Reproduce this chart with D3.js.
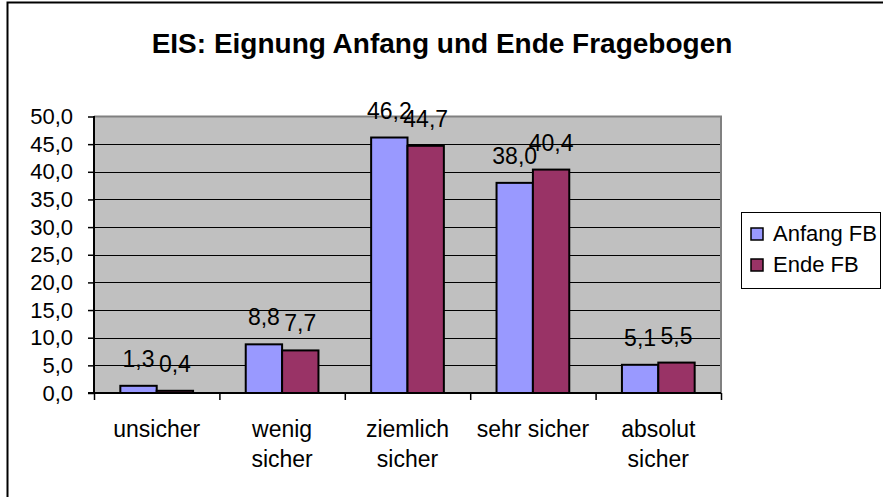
<!DOCTYPE html>
<html>
<head>
<meta charset="utf-8">
<script src="https://cdn.jsdelivr.net/npm/d3@7/dist/d3.min.js"></script>
<style>
  body { margin: 0; background: #fff; }
  svg { display: block; font-family: Arial, "Liberation Sans", sans-serif; }
</style>
</head>
<body>
<svg id="chart" width="883" height="497"></svg>
<script>
// chart data
var categories = [["unsicher"], ["wenig", "sicher"], ["ziemlich", "sicher"], ["sehr sicher"], ["absolut", "sicher"]];
var anfangFB = [1.3, 8.8, 46.2, 38.0, 5.1];
var endeFB = [0.4, 7.7, 44.7, 40.4, 5.5];
var seriesNames = ["Anfang FB", "Ende FB"];
var yTicks = [0, 5, 10, 15, 20, 25, 30, 35, 40, 45, 50];

var colors = ["#9999FF", "#993366"];
var fmt = function(v){ return d3.format(".1f")(v).replace(".", ","); };

var svg = d3.select("#chart");

// outer frame (right/bottom edges fall outside the picture)
svg.append("rect")
    .attr("x", 7.5).attr("y", 2.5)
    .attr("width", 900).attr("height", 520)
    .style("fill", "#fff")
    .style("stroke", "#000")
    .style("stroke-width", 2);

svg.append("text")
    .attr("x", 442).attr("y", 53)
    .attr("text-anchor", "middle")
    .style("font-size", "28px")
    .style("font-weight", "bold")
    .text("EIS: Eignung Anfang und Ende Fragebogen");

var plot = {left: 94, right: 721, top: 116.5, bottom: 393};

var x0 = d3.scaleBand()
    .domain(d3.range(categories.length))
    .range([plot.left, plot.right])
    .paddingInner(0.42).paddingOuter(0.21);
var x1 = d3.scaleBand()
    .domain([0, 1])
    .range([0, x0.bandwidth()]);
var y = d3.scaleLinear().domain([0, 50]).range([plot.bottom, plot.top]);

var g = svg.append("g");

g.append("rect")
    .attr("x", plot.left).attr("y", plot.top)
    .attr("width", plot.right - plot.left).attr("height", plot.bottom - plot.top)
    .style("fill", "#C0C0C0");

// gridlines
g.selectAll("line.grid")
    .data(yTicks.filter(function(d){ return d > 0 && d < 50; }))
    .enter().append("line")
    .attr("class", "grid")
    .attr("x1", plot.left).attr("x2", plot.right)
    .attr("y1", function(d){ return Math.round(y(d)) + 0.5; })
    .attr("y2", function(d){ return Math.round(y(d)) + 0.5; })
    .style("stroke", "#000")
    .style("stroke-width", 1);

// gray top/right border of the plot area
g.append("path")
    .attr("d", "M" + plot.left + "," + plot.top + " H" + plot.right + " V" + plot.bottom)
    .style("fill", "none")
    .style("stroke", "#808080")
    .style("stroke-width", 2);

var series = [anfangFB, endeFB];
series.forEach(function(vals, s){
    g.selectAll("rect.bar" + s)
        .data(vals)
        .enter().append("rect")
        .attr("class", "bar" + s)
        .attr("x", function(d, i){ return x0(i) + x1(s); })
        .attr("y", function(d){ return y(d); })
        .attr("width", x1.bandwidth())
        .attr("height", function(d){ return y(0) - y(d); })
        .style("fill", colors[s])
        .style("stroke", "#000")
        .style("stroke-width", 2);
});

series.forEach(function(vals, s){
    g.selectAll("text.lab" + s)
        .data(vals)
        .enter().append("text")
        .attr("class", "lab" + s)
        .attr("x", function(d, i){ return x0(i) + x1(s) + x1.bandwidth() / 2; })
        .attr("y", function(d){ return y(d) - 19; })
        .attr("text-anchor", "middle")
        .style("font-size", "23px")
        .text(function(d){ return fmt(d); });
});

// y axis
var yAxis = d3.axisLeft(y).tickValues(yTicks).tickSize(6).tickPadding(15)
    .tickFormat(fmt);
var ya = svg.append("g").attr("transform", "translate(" + plot.left + ",0)").call(yAxis);
ya.select(".domain").attr("d", "M0," + (plot.top - 0.5) + "V" + (plot.bottom + 0.5)).style("stroke-width", 2);
ya.selectAll(".tick line").style("stroke-width", 1.5);
ya.selectAll("text").style("font-size", "22px").style("font-family", "Arial, 'Liberation Sans', sans-serif").attr("fill", "#000");

// x axis
svg.append("line")
    .attr("x1", plot.left - 6).attr("x2", plot.right)
    .attr("y1", plot.bottom).attr("y2", plot.bottom)
    .style("stroke", "#000").style("stroke-width", 2);
svg.selectAll("line.xtick")
    .data(d3.range(categories.length + 1))
    .enter().append("line")
    .attr("class", "xtick")
    .attr("x1", function(i){ return plot.left + i * x0.step() + 0.5; })
    .attr("x2", function(i){ return plot.left + i * x0.step() + 0.5; })
    .attr("y1", plot.bottom).attr("y2", plot.bottom + 7)
    .style("stroke", "#000").style("stroke-width", 1.5);

var cat = svg.selectAll("text.cat")
    .data(categories)
    .enter().append("text")
    .attr("class", "cat")
    .attr("text-anchor", "middle")
    .style("font-size", "23px");
cat.each(function(lines, i){
    var t = d3.select(this);
    lines.forEach(function(l, k){
        t.append("tspan")
            .attr("x", x0(i) + x0.bandwidth() / 2)
            .attr("y", 437 + k * 30)
            .text(l);
    });
});

// legend
var lg = svg.append("g");
lg.append("rect")
    .attr("x", 741.5).attr("y", 212.5)
    .attr("width", 139).attr("height", 76)
    .style("fill", "#fff").style("stroke", "#000").style("stroke-width", 1);
seriesNames.forEach(function(n, s){
    lg.append("rect")
        .attr("x", 751).attr("y", 228 + s * 31)
        .attr("width", 12).attr("height", 12)
        .style("fill", colors[s]).style("stroke", "#000").style("stroke-width", 1.5);
    lg.append("text")
        .attr("x", 773).attr("y", 241 + s * 31)
        .style("font-size", "22px")
        .text(n);
});
</script>
</body>
</html>
